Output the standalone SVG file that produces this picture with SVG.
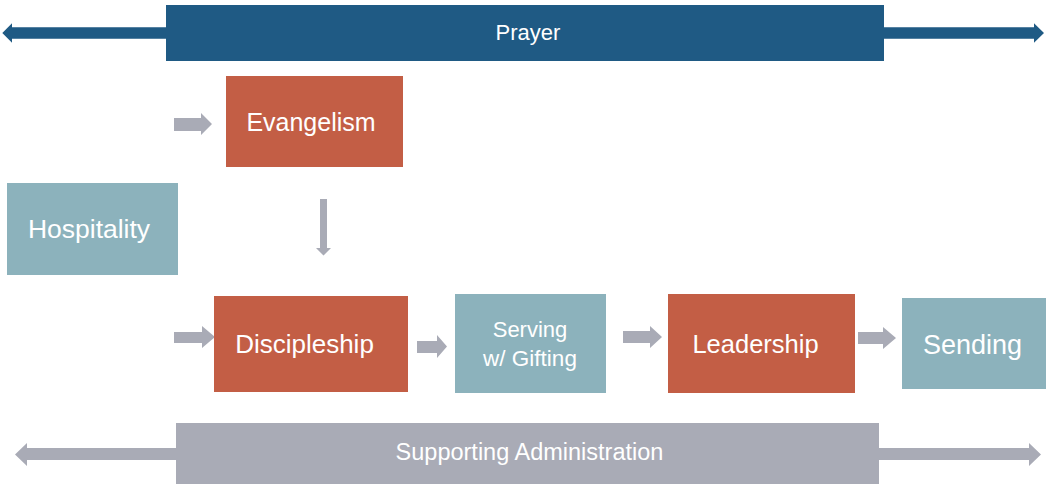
<svg xmlns="http://www.w3.org/2000/svg" width="1047" height="484" viewBox="0 0 1047 484">
<style>
  text { font-family: "Liberation Sans", Arial, sans-serif; fill: #FFFFFF; text-anchor: middle; }
  .blue { fill: #1F5A84; }
  .orange { fill: #C35E45; }
  .teal { fill: #8CB2BC; }
  .gray { fill: #A9ABB6; }
</style>
<rect width="1047" height="484" fill="#FFFFFF"/>
<g id="connectors">
  <polygon class="blue" points="166,27.3 12,27.3 12,23.3 2.3,33 12,42.7 12,38.7 166,38.7"/>
  <polygon class="blue" points="880,27.3 1034,27.3 1034,23.3 1044,33 1034,42.7 1034,38.7 880,38.7"/>
  <polygon class="gray" points="180,448 27,448 27,443 15,454.5 27,466 27,460 180,460"/>
  <polygon class="gray" points="875,448 1029,448 1029,443 1041,454.5 1029,466 1029,460 875,460"/>
  <polygon class="gray" points="174,118 201,118 201,113 212,124 201,135 201,131 174,131"/>
  <polygon class="gray" points="320,199 327,199 327,248 331,248 323.5,255.5 316,248 320,248"/>
  <polygon class="gray" points="174,332 202,332 202,326 215,337 202,348 202,343 174,343"/>
  <polygon class="gray" points="417,341 437,341 437,335 447,346.5 437,358 437,353 417,353"/>
  <polygon class="gray" points="623,331 650,331 650,326 662,337 650,348 650,343 623,343"/>
  <polygon class="gray" points="858,332 883,332 883,327 896,338 883,349 883,344 858,344"/>
</g>
<g id="prayer">
  <rect class="blue" x="166" y="5" width="718" height="56"/>
  <text x="528" y="40" font-size="22">Prayer</text>
</g>
<g id="evangelism">
  <rect class="orange" x="226" y="76" width="177" height="91"/>
  <text x="311" y="131" font-size="25">Evangelism</text>
</g>
<g id="hospitality">
  <rect class="teal" x="7" y="183" width="171" height="92"/>
  <text x="89" y="238" font-size="26.5">Hospitality</text>
</g>
<g id="discipleship">
  <rect class="orange" x="214" y="296" width="194" height="96"/>
  <text x="304.5" y="353" font-size="26">Discipleship</text>
</g>
<g id="serving">
  <rect class="teal" x="455" y="294" width="151" height="99"/>
  <text x="530" y="337" font-size="22">Serving</text>
  <text x="530" y="366" font-size="22.5">w/ Gifting</text>
</g>
<g id="leadership">
  <rect class="orange" x="668" y="294" width="187" height="99"/>
  <text x="755.5" y="353" font-size="25.5">Leadership</text>
</g>
<g id="sending">
  <rect class="teal" x="902" y="298" width="144" height="91"/>
  <text x="972.5" y="354" font-size="27">Sending</text>
</g>
<g id="administration">
  <rect class="gray" x="176" y="423" width="703" height="61"/>
  <text x="529.5" y="460" font-size="23.5">Supporting Administration</text>
</g>
</svg>
